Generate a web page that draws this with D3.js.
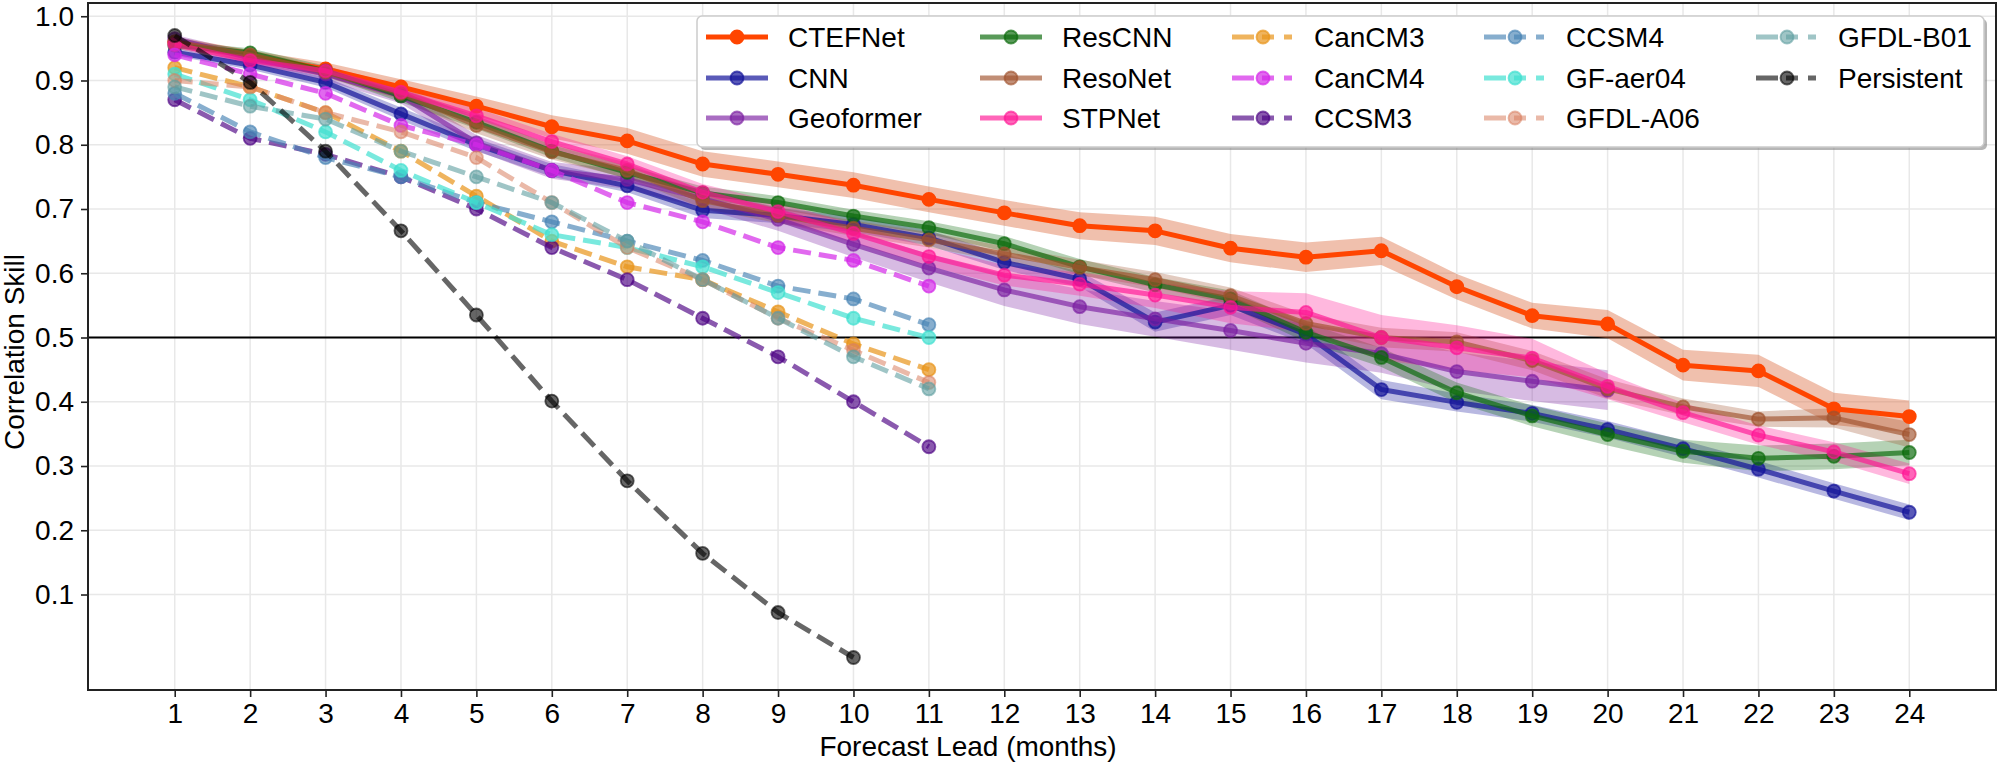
<!DOCTYPE html>
<html><head><meta charset="utf-8">
<script src="https://cdn.jsdelivr.net/npm/d3@7"></script>
<style>
body{margin:0;background:#fff;}
svg{display:block;font-family:"Liberation Sans",Arial,sans-serif;}
</style></head><body>
<svg id="chart" width="2000" height="765"></svg>
<script>
// ---------- data ----------
const leads = [1,2,3,4,5,6,7,8,9,10,11,12,13,14,15,16,17,18,19,20,21,22,23,24];
const yTicks = [0.1,0.2,0.3,0.4,0.5,0.6,0.7,0.8,0.9,1.0];

const ctefnet   = [0.960,0.938,0.918,0.890,0.860,0.828,0.806,0.770,0.754,0.737,0.715,0.694,0.674,0.666,0.639,0.625,0.635,0.579,0.534,0.521,0.457,0.448,0.389,0.377];
const cnn       = [0.944,0.924,0.897,0.848,0.800,0.760,0.736,0.698,0.690,0.676,0.655,0.617,0.591,0.524,0.550,0.505,0.419,0.399,0.382,0.357,0.327,0.295,0.261,0.228];
const geoformer = [0.965,0.935,0.910,0.876,0.803,0.760,0.746,0.716,0.684,0.645,0.608,0.574,0.548,0.529,0.511,0.491,0.475,0.447,0.432,0.418];
const rescnn    = [0.955,0.943,0.915,0.876,0.835,0.790,0.757,0.725,0.710,0.689,0.671,0.646,0.610,0.582,0.560,0.508,0.469,0.414,0.378,0.349,0.323,0.312,0.315,0.321];
const resonet   = [0.960,0.940,0.913,0.880,0.830,0.789,0.760,0.713,0.690,0.670,0.652,0.630,0.609,0.590,0.565,0.522,0.500,0.493,0.464,0.420,0.392,0.373,0.375,0.349];
const stpnet    = [0.956,0.931,0.915,0.882,0.845,0.805,0.770,0.726,0.696,0.662,0.626,0.597,0.583,0.566,0.547,0.539,0.500,0.484,0.468,0.424,0.383,0.348,0.322,0.288];

const ctefnetBand   = [0.008,0.009,0.010,0.012,0.015,0.018,0.020,0.020,0.020,0.020,0.020,0.020,0.021,0.022,0.022,0.023,0.022,0.020,0.020,0.022,0.024,0.025,0.025,0.025];
const cnnBand       = [0.006,0.007,0.008,0.010,0.010,0.010,0.010,0.012,0.012,0.012,0.012,0.012,0.012,0.015,0.015,0.015,0.015,0.014,0.013,0.013,0.013,0.013,0.012,0.012];
const geoformerBand = [0.006,0.008,0.010,0.012,0.012,0.013,0.015,0.015,0.018,0.020,0.022,0.025,0.027,0.028,0.030,0.030,0.030,0.030,0.031,0.031];
const rescnnBand    = [0.006,0.007,0.008,0.010,0.010,0.010,0.010,0.010,0.010,0.010,0.010,0.012,0.012,0.012,0.013,0.015,0.015,0.016,0.016,0.017,0.018,0.020,0.020,0.020];
const resonetBand   = [0.006,0.007,0.008,0.010,0.012,0.012,0.012,0.012,0.012,0.012,0.012,0.012,0.012,0.012,0.013,0.014,0.015,0.015,0.015,0.015,0.013,0.012,0.015,0.020];
const stpnetBand    = [0.006,0.007,0.008,0.010,0.012,0.012,0.012,0.013,0.014,0.015,0.015,0.016,0.018,0.020,0.025,0.030,0.035,0.035,0.030,0.020,0.015,0.015,0.015,0.016];

const cancm3     = [0.92,0.89,0.85,0.79,0.72,0.65,0.61,0.59,0.54,0.49,0.45];
const cancm4     = [0.94,0.91,0.88,0.83,0.80,0.76,0.71,0.68,0.64,0.62,0.58];
const ccsm3      = [0.87,0.81,0.785,0.75,0.70,0.64,0.59,0.53,0.47,0.40,0.33];
const ccsm4      = [0.88,0.82,0.78,0.75,0.71,0.68,0.65,0.62,0.58,0.56,0.52];
const gfaer04    = [0.91,0.87,0.82,0.76,0.71,0.66,0.64,0.61,0.57,0.53,0.50];
const gfdlA06    = [0.90,0.89,0.85,0.82,0.78,0.71,0.64,0.59,0.53,0.48,0.43];
const gfdlB01    = [0.89,0.86,0.84,0.79,0.75,0.71,0.65,0.59,0.53,0.47,0.42];
const persistent = [0.970,0.897,0.790,0.666,0.535,0.401,0.277,0.164,0.072,0.002];

// ---------- series config (styles) ----------
const dlSeries = [
  {name:"CTEFNet",   vals:ctefnet,   band:ctefnetBand,   color:"#ff4500", op:1.0,  bandColor:"#dc6a3c", bandOp:0.42},
  {name:"CNN",       vals:cnn,       band:cnnBand,       color:"#14149a", op:0.7,  bandColor:"#14149a", bandOp:0.3},
  {name:"Geoformer", vals:geoformer, band:geoformerBand, color:"#7b1fa2", op:0.65, bandColor:"#7b1fa2", bandOp:0.3},
  {name:"ResCNN",    vals:rescnn,    band:rescnnBand,    color:"#0a6a0a", op:0.68, bandColor:"#0a6a0a", bandOp:0.3},
  {name:"ResoNet",   vals:resonet,   band:resonetBand,   color:"#a0522d", op:0.65, bandColor:"#a0522d", bandOp:0.3},
  {name:"STPNet",    vals:stpnet,    band:stpnetBand,    color:"#ff1493", op:0.65, bandColor:"#ff1493", bandOp:0.3}
];
const climSeries = [
  {name:"CanCM3",     vals:cancm3,     color:"#e8941a", op:0.7},
  {name:"CanCM4",     vals:cancm4,     color:"#d42ae8", op:0.7},
  {name:"CCSM3",      vals:ccsm3,      color:"#4b0082", op:0.65},
  {name:"CCSM4",      vals:ccsm4,      color:"#4682b4", op:0.65},
  {name:"GF-aer04",   vals:gfaer04,    color:"#40e0d0", op:0.7},
  {name:"GFDL-A06",   vals:gfdlA06,    color:"#d98060", op:0.55},
  {name:"GFDL-B01",   vals:gfdlB01,    color:"#5f9ea0", op:0.6},
  {name:"Persistent", vals:persistent, color:"#000000", op:0.6}
];

// ---------- chart ----------
const svg = d3.select("#chart");
const L = 88, R = 1996, T = 3, B = 690;
const x = d3.scaleLinear().domain([-0.15, 25.15]).range([L, R]);
const y = d3.scaleLinear().domain([-0.0486, 1.0206]).range([B, T]);

svg.append("rect").attr("width",2000).attr("height",765).attr("fill","#fff");

// grid
const grid = svg.append("g");
grid.selectAll(".vg").data(leads).join("line")
  .attr("x1",d=>x(d)).attr("x2",d=>x(d)).attr("y1",T).attr("y2",B)
  .attr("stroke","#e8e8e8").attr("stroke-width",1.5);
grid.selectAll(".hg").data(yTicks).join("line")
  .attr("x1",L).attr("x2",R).attr("y1",d=>y(d)).attr("y2",d=>y(d))
  .attr("stroke","#e8e8e8").attr("stroke-width",1.5);

// axes
const xAxis = svg.append("g").attr("transform",`translate(0,${B})`)
  .call(d3.axisBottom(x).tickValues(leads).tickFormat(d3.format("d")).tickSize(7).tickPadding(6));
const yAxis = svg.append("g").attr("transform",`translate(${L},0)`)
  .call(d3.axisLeft(y).tickValues(yTicks).tickFormat(d3.format(".1f")).tickSize(7).tickPadding(7));
[xAxis,yAxis].forEach(a=>{
  a.select(".domain").remove();
  a.selectAll(".tick line").attr("stroke","#222").attr("stroke-width",1.6);
  a.selectAll(".tick text").attr("font-size",28).attr("fill","#000")
    .attr("font-family","'Liberation Sans',Arial,sans-serif");
});

// 0.5 reference line
svg.append("line").attr("x1",L).attr("x2",R).attr("y1",y(0.5)).attr("y2",y(0.5))
  .attr("stroke","#000").attr("stroke-width",2);

const plot = svg.append("g");

// DL bands
dlSeries.forEach(s=>{
  const area = d3.area().x((d,i)=>x(leads[i])).y0((d,i)=>y(d - s.band[i])).y1((d,i)=>y(d + s.band[i]));
  plot.append("path").datum(s.vals).attr("d",area)
    .attr("fill",s.bandColor).attr("fill-opacity",s.bandOp).attr("stroke","none");
});

const line = d3.line().x((d,i)=>x(leads[i])).y(d=>y(d));

function drawMarkers(g, s){
  g.selectAll(null).data(s.vals).join("circle")
    .attr("cx",(d,i)=>x(leads[i])).attr("cy",d=>y(d)).attr("r",6.5)
    .attr("fill",s.color).attr("fill-opacity",s.op)
    .attr("stroke",s.color).attr("stroke-opacity",s.op).attr("stroke-width",1.8);
}

dlSeries.forEach(s=>{
  const g = plot.append("g");
  g.append("path").datum(s.vals).attr("d",line).attr("fill","none")
    .attr("stroke",s.color).attr("stroke-opacity",s.op).attr("stroke-width",5)
    .attr("stroke-linejoin","round");
  drawMarkers(g, s);
});
climSeries.forEach(s=>{
  const g = plot.append("g");
  g.append("path").datum(s.vals).attr("d",line).attr("fill","none")
    .attr("stroke",s.color).attr("stroke-opacity",s.op).attr("stroke-width",5)
    .attr("stroke-dasharray","18,8");
  drawMarkers(g, s);
});

// frame
svg.append("rect").attr("x",L).attr("y",T).attr("width",R-L).attr("height",B-T)
  .attr("fill","none").attr("stroke","#222").attr("stroke-width",2);

// axis labels
svg.append("text").attr("x",968).attr("y",756).attr("text-anchor","middle")
  .attr("font-size",28).attr("fill","#000").text("Forecast Lead (months)");
svg.append("text").attr("transform",`translate(24,352) rotate(-90)`).attr("text-anchor","middle")
  .attr("font-size",28).attr("fill","#000").text("Correlation Skill");

// legend
const leg = svg.append("g");
const lx0 = 697, ly0 = 16, lx1 = 1984, ly1 = 147;
leg.append("rect").attr("x",lx0+3).attr("y",ly0+3).attr("width",lx1-lx0).attr("height",ly1-ly0)
  .attr("rx",5).attr("fill","#7a7a7a").attr("fill-opacity",0.55);
leg.append("rect").attr("x",lx0).attr("y",ly0).attr("width",lx1-lx0).attr("height",ly1-ly0)
  .attr("rx",5).attr("fill","#fff").attr("stroke","#cccccc").attr("stroke-width",1.5);
const colX = [706, 980, 1232, 1484, 1756];
const rowY = [37, 78, 118];
const allSeries = dlSeries.map(s=>({...s,dashed:false})).concat(climSeries.map(s=>({...s,dashed:true})));
allSeries.forEach((s,k)=>{
  const c = Math.floor(k/3), r = k%3;
  const hx = colX[c], hy = rowY[r];
  const g = leg.append("g");
  g.append("line").attr("x1",hx).attr("x2",hx+62).attr("y1",hy).attr("y2",hy)
    .attr("stroke",s.color).attr("stroke-opacity",s.op).attr("stroke-width",5)
    .attr("stroke-dasharray",s.dashed?"22,8,12,10,8":null);
  g.append("circle").attr("cx",hx+31).attr("cy",hy).attr("r",6.5)
    .attr("fill",s.color).attr("fill-opacity",s.op)
    .attr("stroke",s.color).attr("stroke-opacity",s.op).attr("stroke-width",1.8);
  g.append("text").attr("x",hx+82).attr("y",hy).attr("dy","0.36em")
    .attr("font-size",28).attr("fill","#000").text(s.name);
});
</script>
</body></html>
